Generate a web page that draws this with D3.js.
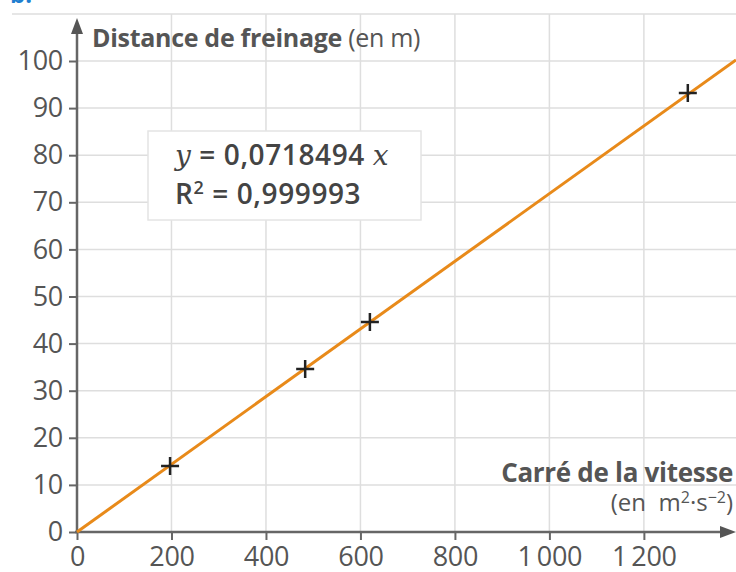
<!DOCTYPE html>
<html lang="fr">
  <head>
    <meta charset="utf-8">
    <title>Distance de freinage</title>
    <script src="https://d3js.org/d3.v7.min.js"></script>
    <style>
      body { margin: 0; background: #fff; }
      text { font-family: "Open Sans", sans-serif; fill: #555; }
      .grid line { stroke: #dedede; stroke-width: 1.5px; }
      .axis line, .axis path { stroke: #666; }
      .tick text { font-size: 27px; letter-spacing: -0.3px; }
    </style>
  </head>
  <body>
    <svg id="chart" width="736" height="572"></svg>
    <script>
      // mesures : carré de la vitesse (m2.s-2) et distance de freinage (m)
      let vitesse2 = [197, 483, 620, 1293];
      let distance = [14.0, 34.6, 44.6, 93.2];
      let coef = 0.0718494;
      let xTicks = [0, 200, 400, 600, 800, 1000, 1200];
      let yTicks = [0, 10, 20, 30, 40, 50, 60, 70, 80, 90, 100];

      let svg = d3.select('#chart');
      let x = d3.scaleLinear().domain([0, 1395]).range([77, 736]);
      let y = d3.scaleLinear().domain([0, 100]).range([532, 61]);
      let fmt = function(d) { return d3.format(',')(d).replace(',', '\u2009'); };

      // bout du titre "b." coupé en haut
      svg.append('text').attr('x', 10).attr('y', 3)
        .style('font-size', '24px').style('font-weight', 'bold').style('fill', '#1f7fd0')
        .text('b.');

      // grille
      let grid = svg.append('g').attr('class', 'grid');
      grid.append('line').attr('x1', 12).attr('x2', 736).attr('y1', 14).attr('y2', 14);
      grid.selectAll('.gy').data(yTicks.slice(1)).join('line')
        .attr('x1', x(0)).attr('x2', 736)
        .attr('y1', function(d){return y(d)}).attr('y2', function(d){return y(d)});
      grid.selectAll('.gx').data(xTicks.slice(1)).join('line')
        .attr('x1', function(d){return x(d)}).attr('x2', function(d){return x(d)})
        .attr('y1', 14).attr('y2', y(0));

      // axes
      let yAxis = d3.axisLeft(y).tickValues(yTicks).tickSize(8).tickPadding(6);
      let gy = svg.append('g').attr('class', 'axis').attr('transform', 'translate(' + x(0) + ',0)').call(yAxis);
      gy.select('.domain').remove();
      let xAxis = d3.axisBottom(x).tickValues(xTicks).tickSize(8).tickPadding(6).tickFormat(fmt);
      let gx = svg.append('g').attr('class', 'axis').attr('transform', 'translate(0,' + y(0) + ')').call(xAxis);
      gx.select('.domain').remove();
      gx.selectAll('.tick text').attr('dy', '0.75em');
      svg.selectAll('.axis .tick line').style('stroke-width', '2px');

      svg.append('line').attr('x1', x(0)).attr('x2', x(0)).attr('y1', y(0)).attr('y2', 30)
        .style('stroke', '#666').style('stroke-width', 2.5);
      svg.append('path').attr('d', 'M' + x(0) + ',18 l-6,16 l12,0 z').style('fill', '#555');
      svg.append('line').attr('x1', x(0) - 2).attr('x2', 722).attr('y1', y(0)).attr('y2', y(0))
        .style('stroke', '#666').style('stroke-width', 2.5);
      svg.append('path').attr('d', 'M736,' + y(0) + ' l-16,-6 l0,12 z').style('fill', '#555');

      // titres des axes
      let ty = svg.append('text').attr('x', 92).attr('y', 47).style('font-size', '25px').style('letter-spacing', '-0.3px');
      ty.append('tspan').style('font-weight', 'bold').text('Distance de freinage');
      ty.append('tspan').text(' (en m)');
      svg.append('text').attr('x', 733).attr('y', 482).attr('text-anchor', 'end')
        .style('font-size', '26px').style('font-weight', 'bold').style('letter-spacing', '-0.3px').text('Carré de la vitesse');
      let tu = svg.append('text').attr('x', 733).attr('y', 511).attr('text-anchor', 'end').style('font-size', '24px');
      tu.append('tspan').text('(en\u00a0\u00a0m');
      tu.append('tspan').attr('dy', -8).style('font-size', '16px').text('2');
      tu.append('tspan').attr('dy', 8).text('·s');
      tu.append('tspan').attr('dy', -8).style('font-size', '16px').text('\u22122');
      tu.append('tspan').attr('dy', 8).text(')');

      // droite de régression
      svg.append('line')
        .attr('x1', x(0)).attr('y1', y(0))
        .attr('x2', x(1395)).attr('y2', y(coef * 1395))
        .style('stroke', '#e88a1a').style('stroke-width', 3);

      // points de mesure
      let pts = d3.zip(vitesse2, distance);
      svg.selectAll('.pt').data(pts).join('path')
        .attr('class', 'pt')
        .attr('d', function(d) {
          let px = x(d[0]), py = y(d[1]);
          return 'M' + (px - 9) + ',' + py + 'h18M' + px + ',' + (py - 9) + 'v18';
        })
        .style('stroke', '#222').style('stroke-width', 2.5);

      // encadré de l'équation
      svg.append('rect').attr('x', 148).attr('y', 131).attr('width', 273).attr('height', 89)
        .style('fill', '#fff').style('stroke', '#e4e4e4').style('stroke-width', 1.5);
      let eq = svg.append('text').attr('x', 175).attr('y', 165).style('font-size', '28px')
        .style('font-weight', '600').style('fill', '#444').style('letter-spacing', '0.6px');
      eq.append('tspan').style('font-family', '"DejaVu Serif", serif').style('font-style', 'italic').style('font-weight', 'normal').text('y');
      eq.append('tspan').text(' = 0,0718494 ');
      eq.append('tspan').style('font-family', '"DejaVu Serif", serif').style('font-style', 'italic').style('font-weight', 'normal').text('x');
      let r2 = svg.append('text').attr('x', 175).attr('y', 204).style('font-size', '28px')
        .style('font-weight', '600').style('fill', '#444').style('letter-spacing', '0.6px');
      r2.append('tspan').text('R');
      r2.append('tspan').attr('dy', -10).style('font-size', '18px').text('2');
      r2.append('tspan').attr('dy', 10).text(' = 0,999993');
    </script>
  </body>
</html>
